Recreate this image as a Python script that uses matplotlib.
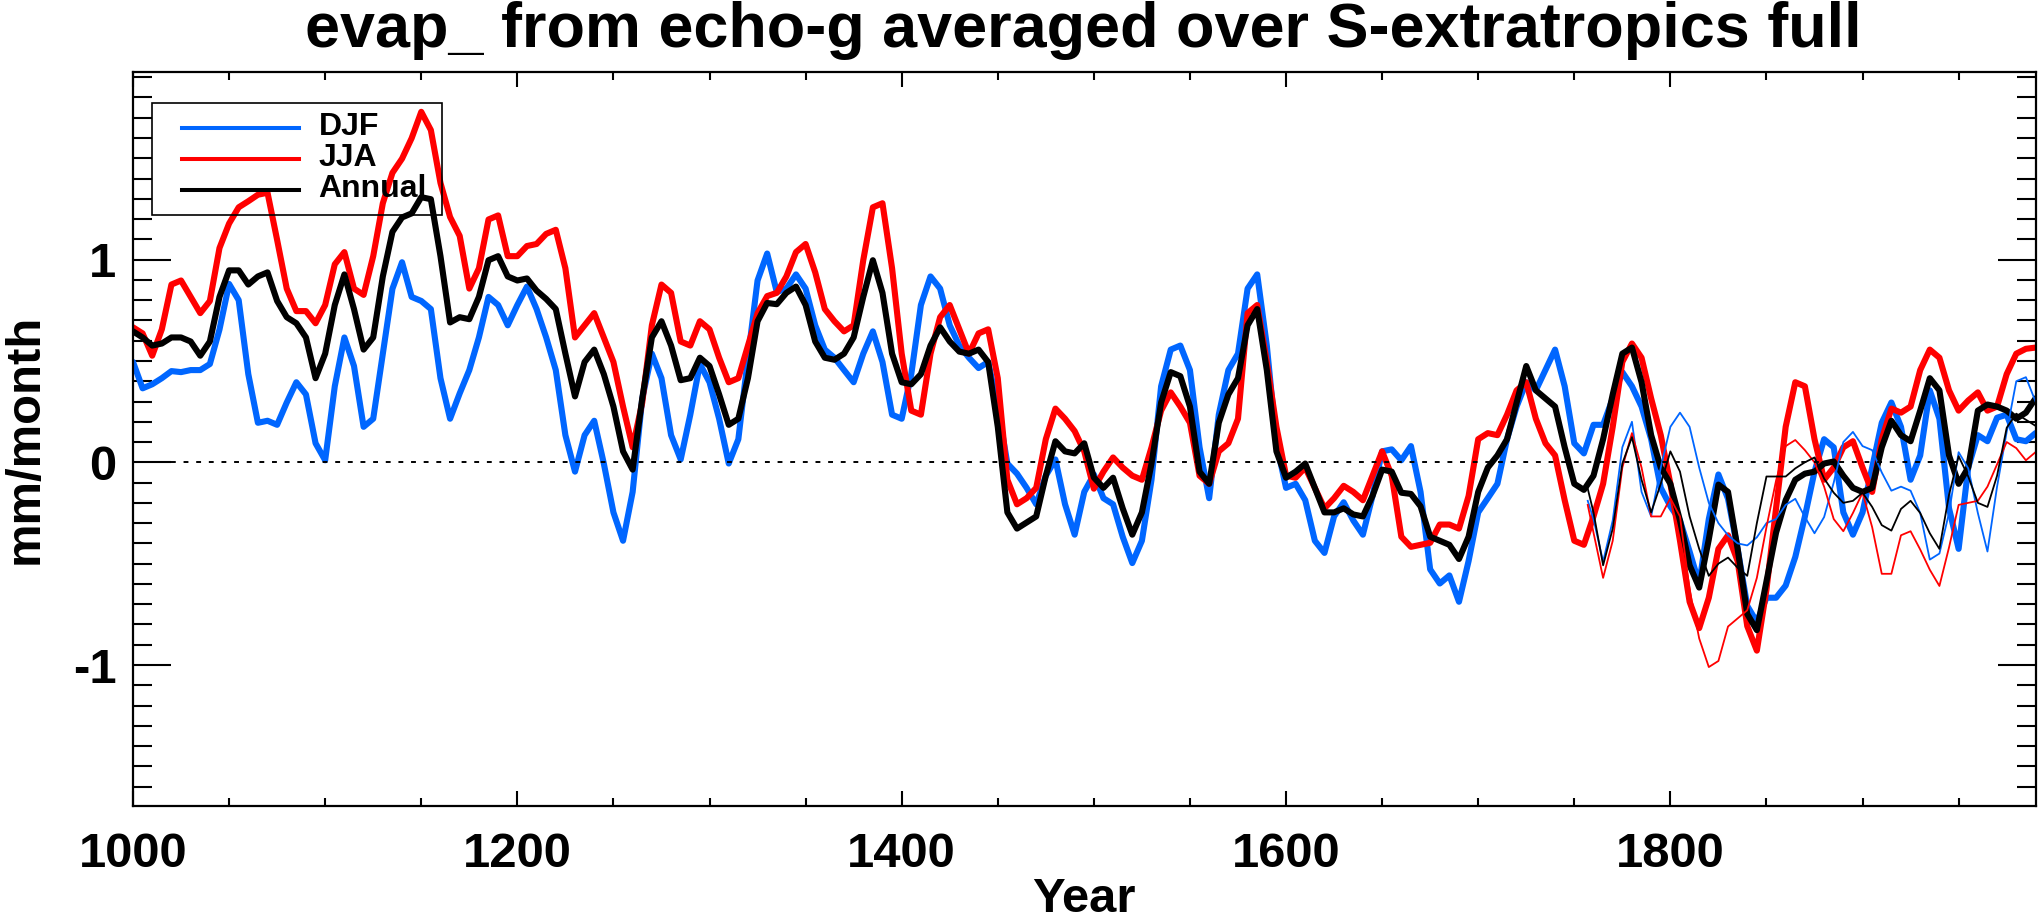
import matplotlib
matplotlib.use("Agg")
import matplotlib.pyplot as plt
from matplotlib.patches import Rectangle
from matplotlib.ticker import MultipleLocator, FixedLocator

plt.rcParams['font.family'] = ['Liberation Sans', 'DejaVu Sans']
plt.rcParams['font.weight'] = 'bold'
plt.rcParams['axes.unicode_minus'] = False

# ---------------------------------------------------------------- data
# smoothed series, 5-year steps from 1000 to 1990
years = list(range(1000, 1991, 5))

djf = [0.495, 0.365, 0.385, 0.415, 0.45, 0.445, 0.455, 0.455, 0.485, 0.655,
       0.88, 0.80, 0.435, 0.195, 0.205, 0.185, 0.295, 0.395, 0.335, 0.094,
       0.01, 0.375, 0.616, 0.475, 0.175, 0.215, 0.536, 0.856, 0.987, 0.816,
       0.796, 0.756, 0.415, 0.215, 0.34, 0.455, 0.616, 0.816, 0.776, 0.676,
       0.776, 0.867, 0.756, 0.616, 0.455, 0.134, -0.046, 0.134, 0.205, -0.006,
       -0.247, -0.387, -0.146, 0.315, 0.536, 0.415, 0.134, 0.014, 0.235, 0.485,
       0.395, 0.215, -0.006, 0.114, 0.516, 0.897, 1.03, 0.84, 0.857, 0.927,
       0.857, 0.676, 0.556, 0.516, 0.455, 0.395, 0.536, 0.646, 0.495, 0.235,
       0.215, 0.435, 0.776, 0.917, 0.857, 0.676, 0.576, 0.516, 0.465, 0.495,
       0.275, -0.006, -0.056, -0.126, -0.207, -0.066, 0.014, -0.207, -0.357, -0.146,
       -0.06, -0.177, -0.207, -0.367, -0.497, -0.387, -0.086, 0.375, 0.556, 0.576,
       0.455, 0.074, -0.177, 0.235, 0.455, 0.536, 0.857, 0.927, 0.576, 0.094,
       -0.126, -0.106, -0.187, -0.387, -0.447, -0.267, -0.197, -0.287, -0.357, -0.166,
       0.054, 0.064, 0.01, 0.08, -0.146, -0.528, -0.598, -0.558, -0.688, -0.487,
       -0.247, -0.177, -0.106, 0.114, 0.275, 0.395, 0.355, 0.455, 0.556, 0.375,
       0.094, 0.044, 0.185, 0.185, 0.315, 0.445, 0.375, 0.275, 0.114, -0.126,
       -0.217, -0.287, -0.44, -0.6, -0.28, -0.06, -0.18, -0.427, -0.708, -0.788,
       -0.668, -0.668, -0.608, -0.467, -0.267, -0.046, 0.114, 0.074, -0.247, -0.357,
       -0.247, -0.026, 0.195, 0.295, 0.175, -0.086, 0.034, 0.355, 0.215, -0.227,
       -0.427, -0.026, 0.134, 0.104, 0.22, 0.235, 0.114, 0.104, 0.144]

jja = [0.666, 0.636, 0.526, 0.656, 0.877, 0.897, 0.816, 0.736, 0.796, 1.057,
       1.178, 1.258, 1.288, 1.32, 1.33, 1.097, 0.857, 0.746, 0.746, 0.686,
       0.776, 0.977, 1.037, 0.857, 0.826, 1.017, 1.278, 1.428, 1.498, 1.599,
       1.729, 1.639, 1.378, 1.21, 1.117, 0.857, 0.957, 1.198, 1.218, 1.017,
       1.017, 1.067, 1.077, 1.127, 1.147, 0.957, 0.616, 0.676, 0.736, 0.616,
       0.495, 0.275, 0.074, 0.295, 0.676, 0.877, 0.836, 0.596, 0.576, 0.696,
       0.656, 0.516, 0.395, 0.415, 0.576, 0.736, 0.82, 0.836, 0.917, 1.037,
       1.077, 0.937, 0.756, 0.696, 0.646, 0.676, 0.997, 1.258, 1.278, 0.957,
       0.536, 0.255, 0.235, 0.536, 0.716, 0.776, 0.656, 0.536, 0.636, 0.656,
       0.415, -0.086, -0.207, -0.177, -0.126, 0.114, 0.265, 0.215, 0.154, 0.054,
       -0.13, -0.046, 0.024, -0.026, -0.066, -0.086, 0.074, 0.255, 0.345, 0.275,
       0.195, -0.066, -0.106, 0.054, 0.094, 0.215, 0.736, 0.776, 0.495, 0.175,
       -0.066, -0.076, -0.026, -0.126, -0.227, -0.177, -0.116, -0.146, -0.187, -0.066,
       0.054, -0.066, -0.367, -0.417, -0.407, -0.397, -0.307, -0.307, -0.327, -0.166,
       0.114, 0.144, 0.134, 0.235, 0.355, 0.395, 0.215, 0.094, 0.034, -0.187,
       -0.387, -0.407, -0.267, -0.106, 0.175, 0.495, 0.586, 0.516, 0.315, 0.134,
       -0.106, -0.387, -0.688, -0.818, -0.668, -0.427, -0.36, -0.487, -0.808, -0.929,
       -0.628, -0.227, 0.175, 0.395, 0.375, 0.114, -0.086, -0.026, 0.074, 0.104,
       -0.026, -0.146, 0.114, 0.265, 0.245, 0.275, 0.455, 0.556, 0.516, 0.355,
       0.255, 0.305, 0.345, 0.255, 0.275, 0.435, 0.536, 0.560, 0.566]

annual = [0.646, 0.616, 0.576, 0.586, 0.616, 0.616, 0.596, 0.526, 0.596, 0.816,
          0.947, 0.947, 0.877, 0.917, 0.937, 0.796, 0.716, 0.686, 0.616, 0.415,
          0.536, 0.776, 0.927, 0.756, 0.556, 0.616, 0.917, 1.137, 1.208, 1.228,
          1.308, 1.298, 1.017, 0.69, 0.716, 0.706, 0.816, 0.997, 1.017, 0.917,
          0.897, 0.907, 0.847, 0.806, 0.756, 0.536, 0.325, 0.495, 0.556, 0.435,
          0.275, 0.054, -0.036, 0.315, 0.616, 0.696, 0.576, 0.405, 0.415, 0.516,
          0.475, 0.335, 0.185, 0.215, 0.415, 0.696, 0.786, 0.78, 0.836, 0.867,
          0.776, 0.596, 0.516, 0.506, 0.536, 0.616, 0.816, 0.997, 0.836, 0.536,
          0.395, 0.385, 0.435, 0.576, 0.666, 0.596, 0.546, 0.536, 0.556, 0.495,
          0.175, -0.247, -0.327, -0.297, -0.267, -0.066, 0.104, 0.054, 0.044, 0.094,
          -0.075, -0.126, -0.076, -0.227, -0.357, -0.247, -0.006, 0.295, 0.445, 0.425,
          0.275, -0.046, -0.106, 0.195, 0.335, 0.415, 0.676, 0.756, 0.455, 0.054,
          -0.076, -0.046, -0.006, -0.126, -0.247, -0.247, -0.227, -0.257, -0.267, -0.166,
          -0.036, -0.046, -0.15, -0.156, -0.217, -0.367, -0.387, -0.407, -0.477, -0.367,
          -0.146, -0.026, 0.034, 0.114, 0.295, 0.475, 0.355, 0.315, 0.275, 0.074,
          -0.106, -0.136, -0.066, 0.114, 0.335, 0.536, 0.566, 0.395, 0.134, -0.026,
          -0.106, -0.287, -0.508, -0.618, -0.38, -0.11, -0.146, -0.427, -0.748, -0.828,
          -0.588, -0.347, -0.187, -0.086, -0.056, -0.046, -0.006, 0.004, -0.066, -0.126,
          -0.146, -0.126, 0.074, 0.205, 0.134, 0.104, 0.255, 0.415, 0.355, 0.034,
          -0.106, -0.026, 0.255, 0.285, 0.275, 0.255, 0.215, 0.245, 0.315]

# second (thin) set of curves, only from the mid 18th century on
years_thin = [1757] + list(range(1760, 1991, 5))

djf_thin = [-0.19, -0.28, -0.49, -0.287, 0.074, 0.20, -0.146, -0.267, -0.026, 0.175,
            0.245, 0.175, -0.026, -0.20, -0.30, -0.36, -0.40, -0.41, -0.37, -0.30,
            -0.28, -0.21, -0.18, -0.27, -0.35, -0.27, -0.10, 0.10, 0.15, 0.08,
            0.06, -0.05, -0.14, -0.12, -0.14, -0.25, -0.48, -0.45, -0.25, 0.05,
            -0.03, -0.25, -0.44, -0.12, 0.15, 0.40, 0.42, 0.30]

jja_thin = [-0.21, -0.347, -0.57, -0.387, -0.026, 0.144, -0.026, -0.267, -0.267, -0.177,
            -0.267, -0.628, -0.869, -1.01, -0.98, -0.81, -0.77, -0.73, -0.57, -0.32,
            -0.09, 0.08, 0.11, 0.06, 0.0, -0.12, -0.28, -0.34, -0.25, -0.15,
            -0.32, -0.55, -0.55, -0.36, -0.34, -0.43, -0.53, -0.61, -0.42, -0.21,
            -0.20, -0.19, -0.12, -0.01, 0.10, 0.07, 0.01, 0.05]

annual_thin = [-0.13, -0.247, -0.508, -0.327, -0.006, 0.124, -0.086, -0.247, -0.106, 0.054,
               -0.046, -0.267, -0.427, -0.56, -0.50, -0.47, -0.52, -0.56, -0.30, -0.07,
               -0.07, -0.07, -0.03, 0.0, 0.024, -0.08, -0.15, -0.20, -0.19, -0.15,
               -0.22, -0.31, -0.337, -0.23, -0.19, -0.25, -0.35, -0.427, -0.16, 0.03,
               -0.07, -0.20, -0.22, -0.066, 0.17, 0.24, 0.21, 0.18]

series_names = ['DJF', 'JJA', 'Annual']
series_colors = ['#0066ff', '#ff0000', '#000000']

# ---------------------------------------------------------------- figure
W, H = 2038, 924
fig = plt.figure(figsize=(W / 100, H / 100), dpi=100)

def fx(px):
    return px / W

def fy(py):
    # pixel rows are counted from the top of the picture
    return 1 - py / H

ax_left, ax_right, ax_top, ax_bottom = 133, 2035.5, 71.7, 805.7
ax = fig.add_axes([fx(ax_left), fy(ax_bottom),
                   (ax_right - ax_left) / W, (ax_bottom - ax_top) / H])

# thick curves
for vals, col in zip([djf, jja, annual], series_colors):
    ax.plot(years, vals, color=col, linewidth=4.4,
            solid_joinstyle='round', solid_capstyle='round')

# thin curves
for vals, col in zip([djf_thin, jja_thin, annual_thin], series_colors):
    ax.plot(years_thin, vals, color=col, linewidth=1.3, solid_joinstyle='round')

# dotted zero line
ax.axhline(0, color='black', linewidth=1.4, linestyle=(0, (2.5, 4)))

ax.set_xlim(1000, 1990)
ax.set_ylim(-1.694, 1.927)

# ticks, IDL style: inside, on all four sides
ax.xaxis.set_major_locator(FixedLocator([1000, 1200, 1400, 1600, 1800]))
ax.xaxis.set_minor_locator(MultipleLocator(50))
ax.yaxis.set_major_locator(FixedLocator([-1, 0, 1]))
ax.yaxis.set_minor_locator(MultipleLocator(0.1))
ax.tick_params(which='both', direction='in', top=True, right=True, width=1.5, colors='black')
ax.tick_params(axis='x', which='major', length=11, pad=19, labelsize=35.3)
ax.tick_params(axis='x', which='minor', length=5.5)
ax.tick_params(axis='y', which='major', length=27.4, pad=12, labelsize=35.3)
ax.tick_params(axis='y', which='minor', length=13.7)
ax.set_xticklabels(['1000', '1200', '1400', '1600', '1800'], fontweight='bold')
ax.set_yticklabels(['-1', '0', '1'], fontweight='bold')
for sp in ax.spines.values():
    sp.set_linewidth(1.6)

# titles and axis names
fig.text(fx(1083), fy(46.7), 'evap_ from echo-g averaged over S-extratropics full',
         ha='center', va='baseline', fontsize=45.3, fontweight='bold')
fig.text(fx(1084), 0.002, 'Year', ha='center', va='bottom',
         fontsize=35.3, fontweight='bold')
fig.text(fx(3), fy((ax_top + ax_bottom) / 2), 'mm/month', rotation=90,
         ha='left', va='center', fontsize=35.3, fontweight='bold')

# legend box drawn by hand, like the IDL original
fig.patches.append(Rectangle((fx(152), fy(214.9)), (442.3 - 152) / W, (214.9 - 102.8) / H,
                             transform=fig.transFigure, fill=False,
                             edgecolor='black', linewidth=1.2))
for row_y, name, col in zip([127.7, 158.7, 189.6], series_names, series_colors):
    fig.add_artist(plt.Line2D([fx(182.3), fx(298.7)], [fy(row_y), fy(row_y)],
                              transform=fig.transFigure, color=col, linewidth=2.9))
    fig.text(fx(318.7), fy(row_y + 7.5), name, ha='left', va='baseline',
             fontsize=23, fontweight='bold')

fig.savefig('out.png', dpi=100)
